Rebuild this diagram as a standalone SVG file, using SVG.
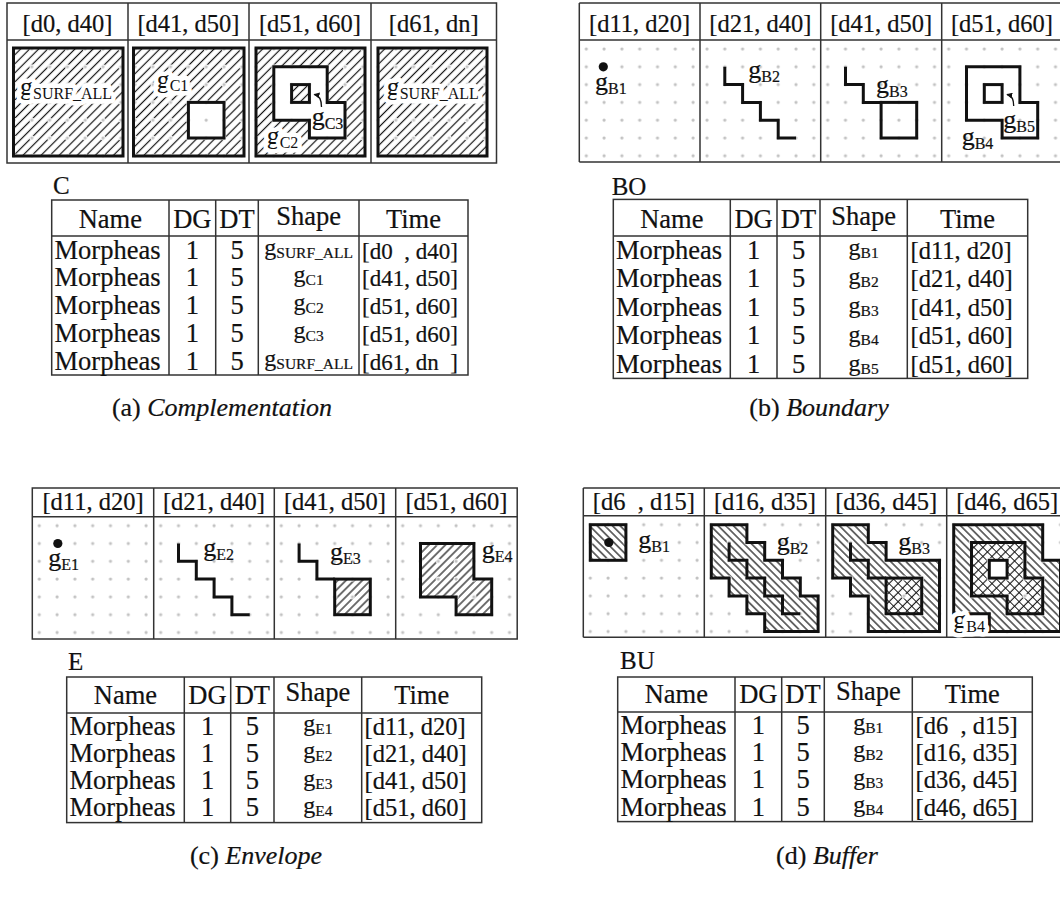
<svg xmlns="http://www.w3.org/2000/svg" width="1060" height="900" viewBox="0 0 1060 900">
  <defs>
    <style>
      text { font-family: "Liberation Serif", "Times New Roman", serif; fill: #111; stroke: #111; stroke-width: 0.2px; }
      .frame { fill: none; stroke: #333; stroke-width: 1.5; }
      .tb { fill: none; stroke: #333; stroke-width: 1.5; }
      .thick { fill: none; stroke: #111; stroke-width: 3; stroke-linejoin: miter; }
      .white { fill: #fff; }
      .hA { fill: url(#hatchA); }
      .hC { fill: url(#hatchC); }
      .hD { fill: url(#hatchD); }
      .hX { fill: url(#cross); }
      .dots { fill: url(#dots); }
      .pt { fill: #111; }
      .hd { font-size: 24.5px; text-anchor: middle; white-space: pre; }
      .lbl { font-size: 26px; }
      .sub { font-size: 16px; }
      .halo { paint-order: stroke; stroke: #fff; stroke-width: 9px; stroke-linejoin: round; }
      .tag { font-size: 25px; }
      .th { font-size: 26.5px; text-anchor: middle; }
      .nm { font-size: 26.5px; }
      .num { font-size: 26.5px; text-anchor: middle; }
      .shp { font-size: 24px; text-anchor: middle; }
      .tsub { font-size: 15.5px; }
      .tm { font-size: 24.5px; white-space: pre; }
      .tmA { font-size: 23px; white-space: pre; }
      .cap { font-size: 26px; text-anchor: middle; }
      .it { font-style: italic; }
      .arr { fill: none; stroke: #111; stroke-width: 1.3; marker-end: url(#ah); }
    </style>
    <!-- light grid of dots, 17.8 px pitch, first dot at (7, 9) of each cell -->
    <pattern id="dots" width="17.8" height="17.8" patternUnits="userSpaceOnUse">
      <circle cx="7" cy="9" r="2.5" fill="#fff"/>
      <circle cx="7" cy="9" r="1.6" fill="#c2c2c2"/>
    </pattern>
    <pattern id="hatchA" width="6.4" height="6.4" patternUnits="userSpaceOnUse" patternTransform="rotate(45)">
      <line x1="3.2" y1="0" x2="3.2" y2="6.4" stroke="#111" stroke-width="1.2"/>
    </pattern>
    <pattern id="hatchC" width="5.8" height="5.8" patternUnits="userSpaceOnUse" patternTransform="rotate(45)">
      <line x1="2.9" y1="0" x2="2.9" y2="5.8" stroke="#111" stroke-width="1.2"/>
    </pattern>
    <pattern id="hatchD" width="5.4" height="5.4" patternUnits="userSpaceOnUse" patternTransform="rotate(-45)">
      <line x1="2.7" y1="0" x2="2.7" y2="5.4" stroke="#111" stroke-width="1.2"/>
    </pattern>
    <pattern id="cross" width="6.4" height="6.4" patternUnits="userSpaceOnUse" patternTransform="rotate(45)">
      <path d="M3.2,0 V6.4 M0,3.2 H6.4" stroke="#111" stroke-width="1.1"/>
    </pattern>
    <marker id="ah" markerWidth="6" markerHeight="6" refX="5" refY="3" orient="auto" markerUnits="userSpaceOnUse">
      <path d="M0,0 L6,3 L0,6 Z" fill="#111"/>
    </marker>
    <!-- shapes in cell-local grid coordinates -->
    <path id="stair" d="M24.8,26.8 V44.6 H42.6 V62.4 H60.4 V80.2 H78.2 V98 H96"/>
    <path id="stairHalf" d="M24.8,26.8 V44.6 H42.6 V62.4 H60.4"/>
    <path id="poly" d="M24.8,26.8 H78.2 V62.4 H96 V98 H60.4 V80.2 H24.8 Z"/>
    <rect id="sq" x="60.4" y="62.4" width="35.6" height="35.6"/>
    <rect id="hole" x="42.6" y="44.6" width="17.8" height="17.8"/>
    <rect id="buf1" x="7" y="9" width="35.6" height="35.6"/>
    <path id="buf2" d="M7,9 H42.6 V26.8 H60.4 V44.6 H78.2 V62.4 H96 V80.2 H113.8 V115.8 H60.4 V98 H42.6 V80.2 H24.8 V62.4 H7 Z"/>
    <path id="buf3" d="M7,9 H42.6 V26.8 H60.4 V44.6 H113.8 V115.8 H42.6 V80.2 H24.8 V62.4 H7 Z"/>
    <path id="buf4" d="M7,9 H96 V44.6 H113.8 V115.8 H42.6 V98 H7 Z"/>
  </defs>

  <rect width="1060" height="900" fill="#fff"/>

  <!-- ===================== (a) Complementation ===================== -->
  <g id="strip-c">
    <rect x="7" y="3" width="489.5" height="160" class="frame"/>
    <path class="frame" d="M7,40 H496.5 M128,3 V163 M249,3 V163 M371,3 V163"/>
    <text class="hd" x="67.5" y="31.5">[d0, d40]</text>
    <text class="hd" x="188.5" y="31.5">[d41, d50]</text>
    <text class="hd" x="310" y="31.5">[d51, d60]</text>
    <text class="hd" x="433.7" y="31.5">[d61, dn]</text>

    <g id="c-cell1" transform="translate(7,40)">
      <rect x="6.5" y="8" width="109.5" height="108" class="hA"/>
      <rect x="0" y="0" width="121" height="123" class="dots"/>
      <text class="lbl halo" x="13" y="55">g<tspan class="sub" dy="4">SURF_ALL</tspan></text>
      <rect x="6.5" y="8" width="109.5" height="108" class="thick"/>
    </g>
    <g id="c-cell2" transform="translate(128,40)">
      <rect x="5.5" y="8" width="110.5" height="108" class="hA"/>
      <use href="#sq" class="white"/>
      <rect x="0" y="0" width="121" height="123" class="dots"/>
      <text class="lbl halo" x="28.7" y="48">g<tspan class="sub" dy="3">C1</tspan></text>
      <rect x="5.5" y="8" width="110.5" height="108" class="thick"/>
      <use href="#sq" class="thick"/>
    </g>
    <g id="c-cell3" transform="translate(249,40)">
      <rect x="7" y="8" width="109" height="108" class="hA"/>
      <use href="#poly" class="white"/>
      <use href="#hole" class="hA"/>
      <rect x="0" y="0" width="122" height="123" class="dots"/>
      <text class="lbl halo" x="17.7" y="104">g<tspan class="sub" dy="4">C2</tspan></text>
      <rect x="7" y="8" width="109" height="108" class="thick"/>
      <use href="#poly" class="thick"/>
      <use href="#hole" class="thick"/>
      <path class="arr" d="M72.5,67 C72.5,59 70.5,55.5 65.5,54.5"/>
      <text class="lbl" x="62.7" y="85">g<tspan class="sub" dy="4">C3</tspan></text>
    </g>
    <g id="c-cell4" transform="translate(371,40)">
      <rect x="7" y="8" width="109" height="108" class="hA"/>
      <rect x="0" y="0" width="125" height="123" class="dots"/>
      <text class="lbl halo" x="15.7" y="55">g<tspan class="sub" dy="4">SURF_ALL</tspan></text>
      <rect x="7" y="8" width="109" height="108" class="thick"/>
    </g>
  </g>

  <g id="table-c">
    <text class="tag" x="53" y="193.5">C</text>
    <rect x="51.7" y="200" width="416.3" height="175" class="tb"/>
    <path class="tb" d="M51.7,236 H468 M169,200 V375 M215.7,200 V375 M258.3,200 V375 M359,200 V375"/>
    <text class="th" x="110.3" y="227.5">Name</text>
    <text class="th" x="192.3" y="227.5">DG</text>
    <text class="th" x="237" y="227.5">DT</text>
    <text class="th" x="308.6" y="224.5">Shape</text>
    <text class="th" x="413.5" y="227.5">Time</text>

    <text class="nm" x="54.5" y="258.5">Morpheas</text>
    <text class="nm" x="54.5" y="286.3">Morpheas</text>
    <text class="nm" x="54.5" y="314.1">Morpheas</text>
    <text class="nm" x="54.5" y="341.9">Morpheas</text>
    <text class="nm" x="54.5" y="369.7">Morpheas</text>
    <text class="num" x="192.3" y="258.5">1</text>
    <text class="num" x="192.3" y="286.3">1</text>
    <text class="num" x="192.3" y="314.1">1</text>
    <text class="num" x="192.3" y="341.9">1</text>
    <text class="num" x="192.3" y="369.7">1</text>
    <text class="num" x="237" y="258.5">5</text>
    <text class="num" x="237" y="286.3">5</text>
    <text class="num" x="237" y="314.1">5</text>
    <text class="num" x="237" y="341.9">5</text>
    <text class="num" x="237" y="369.7">5</text>
    <text class="shp" x="308.6" y="254.5">g<tspan class="tsub" dy="3">SURF_ALL</tspan></text>
    <text class="shp" x="308.6" y="282.3">g<tspan class="tsub" dy="3">C1</tspan></text>
    <text class="shp" x="308.6" y="310.1">g<tspan class="tsub" dy="3">C2</tspan></text>
    <text class="shp" x="308.6" y="337.9">g<tspan class="tsub" dy="3">C3</tspan></text>
    <text class="shp" x="308.6" y="365.7">g<tspan class="tsub" dy="3">SURF_ALL</tspan></text>
    <text class="tmA" x="362" y="258.5">[d0  , d40]</text>
    <text class="tmA" x="362" y="286.3">[d41, d50]</text>
    <text class="tmA" x="362" y="314.1">[d51, d60]</text>
    <text class="tmA" x="362" y="341.9">[d51, d60]</text>
    <text class="tmA" x="362" y="369.7">[d61, dn  ]</text>
    <text class="cap" x="222" y="416">(a) <tspan class="it">Complementation</tspan></text>
  </g>

  <!-- ===================== (b) Boundary ===================== -->
  <g id="strip-bo">
    <path class="frame" d="M579.3,3 H1063 M579.3,40 H1063 M579.3,162 H1063 M579.3,3 V162 M700,3 V162 M820.7,3 V162 M941.7,3 V162"/>
    <text class="hd" x="639.6" y="31.5">[d11, d20]</text>
    <text class="hd" x="760.3" y="31.5">[d21, d40]</text>
    <text class="hd" x="881.2" y="31.5">[d41, d50]</text>
    <text class="hd" x="1002" y="31.5">[d51, d60]</text>

    <g id="bo-cell1" transform="translate(579.3,40)">
      <rect x="0" y="0" width="120.7" height="122" class="dots"/>
      <circle cx="24" cy="26.8" r="4.6" class="pt"/>
      <text class="lbl" x="15.7" y="50">g<tspan class="sub" dy="4">B1</tspan></text>
    </g>
    <g id="bo-cell2" transform="translate(700,40)">
      <rect x="0" y="0" width="120.7" height="122" class="dots"/>
      <use href="#stair" class="thick"/>
      <text class="lbl" x="48.3" y="38.3">g<tspan class="sub" dy="4">B2</tspan></text>
    </g>
    <g id="bo-cell3" transform="translate(820.7,40)">
      <rect x="0" y="0" width="121" height="122" class="dots"/>
      <use href="#stairHalf" class="thick"/>
      <use href="#sq" class="thick"/>
      <text class="lbl" x="55.3" y="53.3">g<tspan class="sub" dy="4">B3</tspan></text>
    </g>
    <g id="bo-cell4" transform="translate(941.7,40)">
      <rect x="0" y="0" width="121" height="122" class="dots"/>
      <use href="#poly" class="thick"/>
      <use href="#hole" class="thick"/>
      <path class="arr" d="M72,66 C72,59 70,55.5 65.5,54.5"/>
      <text class="lbl" x="61.6" y="88">g<tspan class="sub" dy="4">B5</tspan></text>
      <text class="lbl" x="20" y="105">g<tspan class="sub" dy="4">B4</tspan></text>
    </g>
  </g>

  <g id="table-bo">
    <text class="tag" x="611.7" y="195">BO</text>
    <rect x="613.3" y="199.4" width="414.4" height="179" class="tb"/>
    <path class="tb" d="M613.3,236 H1027.7 M730.3,199.4 V378.4 M777,199.4 V378.4 M820,199.4 V378.4 M907.3,199.4 V378.4"/>
    <text class="th" x="671.8" y="227.5">Name</text>
    <text class="th" x="753.6" y="227.5">DG</text>
    <text class="th" x="798.5" y="227.5">DT</text>
    <text class="th" x="863.6" y="224.5">Shape</text>
    <text class="th" x="967.5" y="227.5">Time</text>

    <text class="nm" x="616" y="258.5">Morpheas</text>
    <text class="nm" x="616" y="287">Morpheas</text>
    <text class="nm" x="616" y="315.5">Morpheas</text>
    <text class="nm" x="616" y="344">Morpheas</text>
    <text class="nm" x="616" y="372.5">Morpheas</text>
    <text class="num" x="753.6" y="258.5">1</text>
    <text class="num" x="753.6" y="287">1</text>
    <text class="num" x="753.6" y="315.5">1</text>
    <text class="num" x="753.6" y="344">1</text>
    <text class="num" x="753.6" y="372.5">1</text>
    <text class="num" x="798.5" y="258.5">5</text>
    <text class="num" x="798.5" y="287">5</text>
    <text class="num" x="798.5" y="315.5">5</text>
    <text class="num" x="798.5" y="344">5</text>
    <text class="num" x="798.5" y="372.5">5</text>
    <text class="shp" x="863.6" y="254.5">g<tspan class="tsub" dy="3">B1</tspan></text>
    <text class="shp" x="863.6" y="283.5">g<tspan class="tsub" dy="3">B2</tspan></text>
    <text class="shp" x="863.6" y="312.5">g<tspan class="tsub" dy="3">B3</tspan></text>
    <text class="shp" x="863.6" y="341.5">g<tspan class="tsub" dy="3">B4</tspan></text>
    <text class="shp" x="863.6" y="370.5">g<tspan class="tsub" dy="3">B5</tspan></text>
    <text class="tm" x="910.5" y="258.5">[d11, d20]</text>
    <text class="tm" x="910.5" y="287">[d21, d40]</text>
    <text class="tm" x="910.5" y="315.5">[d41, d50]</text>
    <text class="tm" x="910.5" y="344">[d51, d60]</text>
    <text class="tm" x="910.5" y="372.5">[d51, d60]</text>
    <text class="cap" x="819" y="416">(b) <tspan class="it">Boundary</tspan></text>
  </g>

  <!-- ===================== (c) Envelope ===================== -->
  <g id="strip-e">
    <rect x="32.3" y="488" width="484.9" height="151" class="frame"/>
    <path class="frame" d="M32.3,516.7 H517.2 M153.7,488 V639 M274.3,488 V639 M395.7,488 V639"/>
    <text class="hd" x="93" y="510">[d11, d20]</text>
    <text class="hd" x="214" y="510">[d21, d40]</text>
    <text class="hd" x="335" y="510">[d41, d50]</text>
    <text class="hd" x="456.5" y="510">[d51, d60]</text>

    <g id="e-cell1" transform="translate(32.3,516.7)">
      <rect x="0" y="0" width="121.4" height="122.3" class="dots"/>
      <circle cx="25.5" cy="26.8" r="4.6" class="pt"/>
      <text class="lbl" x="16" y="49.3">g<tspan class="sub" dy="4">E1</tspan></text>
    </g>
    <g id="e-cell2" transform="translate(153.7,516.7)">
      <rect x="0" y="0" width="120.6" height="122.3" class="dots"/>
      <use href="#stair" class="thick"/>
      <text class="lbl" x="49.6" y="39">g<tspan class="sub" dy="4">E2</tspan></text>
    </g>
    <g id="e-cell3" transform="translate(274.3,516.7)">
      <use href="#sq" class="hC"/>
      <rect x="0" y="0" width="121.4" height="122.3" class="dots"/>
      <use href="#stairHalf" class="thick"/>
      <use href="#sq" class="thick"/>
      <text class="lbl" x="55.7" y="43.6">g<tspan class="sub" dy="4">E3</tspan></text>
    </g>
    <g id="e-cell4" transform="translate(395.7,516.7)">
      <use href="#poly" class="hC"/>
      <rect x="0" y="0" width="121.5" height="122.3" class="dots"/>
      <use href="#poly" class="thick"/>
      <text class="lbl" x="86" y="41.6">g<tspan class="sub" dy="4">E4</tspan></text>
    </g>
  </g>

  <g id="table-e">
    <text class="tag" x="68" y="670">E</text>
    <rect x="66.7" y="677" width="415" height="145.6" class="tb"/>
    <path class="tb" d="M66.7,713 H481.7 M184.3,677 V822.6 M230.7,677 V822.6 M274,677 V822.6 M361.7,677 V822.6"/>
    <text class="th" x="125.5" y="703.5">Name</text>
    <text class="th" x="207.5" y="703.5">DG</text>
    <text class="th" x="252.3" y="703.5">DT</text>
    <text class="th" x="317.8" y="700.5">Shape</text>
    <text class="th" x="421.7" y="703.5">Time</text>

    <text class="nm" x="69.5" y="734.5">Morpheas</text>
    <text class="nm" x="69.5" y="761.9">Morpheas</text>
    <text class="nm" x="69.5" y="789.3">Morpheas</text>
    <text class="nm" x="69.5" y="816.4">Morpheas</text>
    <text class="num" x="207.5" y="734.5">1</text>
    <text class="num" x="207.5" y="761.9">1</text>
    <text class="num" x="207.5" y="789.3">1</text>
    <text class="num" x="207.5" y="816.4">1</text>
    <text class="num" x="252.3" y="734.5">5</text>
    <text class="num" x="252.3" y="761.9">5</text>
    <text class="num" x="252.3" y="789.3">5</text>
    <text class="num" x="252.3" y="816.4">5</text>
    <text class="shp" x="317.8" y="730.5">g<tspan class="tsub" dy="3">E1</tspan></text>
    <text class="shp" x="317.8" y="758">g<tspan class="tsub" dy="3">E2</tspan></text>
    <text class="shp" x="317.8" y="785.5">g<tspan class="tsub" dy="3">E3</tspan></text>
    <text class="shp" x="317.8" y="813">g<tspan class="tsub" dy="3">E4</tspan></text>
    <text class="tm" x="364.5" y="734.5">[d11, d20]</text>
    <text class="tm" x="364.5" y="761.9">[d21, d40]</text>
    <text class="tm" x="364.5" y="789.3">[d41, d50]</text>
    <text class="tm" x="364.5" y="816.4">[d51, d60]</text>
    <text class="cap" x="256" y="864">(c) <tspan class="it">Envelope</tspan></text>
  </g>

  <!-- ===================== (d) Buffer ===================== -->
  <g id="strip-bu">
    <path class="frame" d="M583.3,488 H1063 M583.3,515.7 H1063 M583.3,637.3 H1063 M583.3,488 V637.3 M704.3,488 V637.3 M825.7,488 V637.3 M946.7,488 V637.3"/>
    <text class="hd" x="643.8" y="510">[d6  , d15]</text>
    <text class="hd" x="765" y="510">[d16, d35]</text>
    <text class="hd" x="886.2" y="510">[d36, d45]</text>
    <text class="hd" x="1007.2" y="510">[d46, d65]</text>

    <g id="bu-cell1" transform="translate(583.3,515.7)">
      <use href="#buf1" class="hD"/>
      <rect x="0" y="0" width="121" height="121.6" class="dots"/>
      <use href="#buf1" class="thick"/>
      <circle cx="25.5" cy="26.8" r="4.6" class="pt"/>
      <text class="lbl" x="55" y="32.6">g<tspan class="sub" dy="4">B1</tspan></text>
    </g>
    <g id="bu-cell2" transform="translate(704.3,515.7)">
      <use href="#buf2" class="hD"/>
      <rect x="0" y="0" width="121.4" height="121.6" class="dots"/>
      <use href="#buf2" class="thick"/>
      <use href="#stair" class="thick"/>
      <text class="lbl" x="72.4" y="34.3">g<tspan class="sub" dy="4">B2</tspan></text>
    </g>
    <g id="bu-cell3" transform="translate(825.7,515.7)">
      <use href="#buf3" class="hD"/>
      <use href="#sq" class="white"/>
      <use href="#sq" class="hX"/>
      <rect x="0" y="0" width="121" height="121.6" class="dots"/>
      <use href="#buf3" class="thick"/>
      <use href="#stairHalf" class="thick"/>
      <use href="#sq" class="thick"/>
      <text class="lbl" x="72.6" y="34.3">g<tspan class="sub" dy="4">B3</tspan></text>
    </g>
    <g id="bu-cell4" transform="translate(946.7,515.7)">
      <use href="#buf4" class="hD"/>
      <use href="#poly" class="white"/>
      <use href="#poly" class="hX"/>
      <use href="#hole" class="white"/>
      <rect x="0" y="0" width="121" height="121.6" class="dots"/>
      <use href="#buf4" class="thick"/>
      <use href="#poly" class="thick"/>
      <use href="#hole" class="thick"/>
      <text class="lbl halo" x="6.6" y="112.6">g<tspan class="sub" dy="4">B4</tspan></text>
    </g>
  </g>

  <g id="table-bu">
    <text class="tag" x="620" y="669">BU</text>
    <rect x="617.7" y="677" width="414.6" height="144.6" class="tb"/>
    <path class="tb" d="M617.7,712 H1032.3 M735,677 V821.6 M781.7,677 V821.6 M824.3,677 V821.6 M912.3,677 V821.6"/>
    <text class="th" x="676.3" y="702.5">Name</text>
    <text class="th" x="758.3" y="702.5">DG</text>
    <text class="th" x="803" y="702.5">DT</text>
    <text class="th" x="868.3" y="699.5">Shape</text>
    <text class="th" x="972.3" y="702.5">Time</text>

    <text class="nm" x="620.5" y="733.5">Morpheas</text>
    <text class="nm" x="620.5" y="760.9">Morpheas</text>
    <text class="nm" x="620.5" y="788.3">Morpheas</text>
    <text class="nm" x="620.5" y="815.5">Morpheas</text>
    <text class="num" x="758.3" y="733.5">1</text>
    <text class="num" x="758.3" y="760.9">1</text>
    <text class="num" x="758.3" y="788.3">1</text>
    <text class="num" x="758.3" y="815.5">1</text>
    <text class="num" x="803" y="733.5">5</text>
    <text class="num" x="803" y="760.9">5</text>
    <text class="num" x="803" y="788.3">5</text>
    <text class="num" x="803" y="815.5">5</text>
    <text class="shp" x="868.3" y="729.5">g<tspan class="tsub" dy="3">B1</tspan></text>
    <text class="shp" x="868.3" y="757">g<tspan class="tsub" dy="3">B2</tspan></text>
    <text class="shp" x="868.3" y="784.5">g<tspan class="tsub" dy="3">B3</tspan></text>
    <text class="shp" x="868.3" y="812">g<tspan class="tsub" dy="3">B4</tspan></text>
    <text class="tm" x="915.5" y="733.5">[d6  , d15]</text>
    <text class="tm" x="915.5" y="760.9">[d16, d35]</text>
    <text class="tm" x="915.5" y="788.3">[d36, d45]</text>
    <text class="tm" x="915.5" y="815.5">[d46, d65]</text>
    <text class="cap" x="827" y="864">(d) <tspan class="it">Buffer</tspan></text>
  </g>
</svg>
